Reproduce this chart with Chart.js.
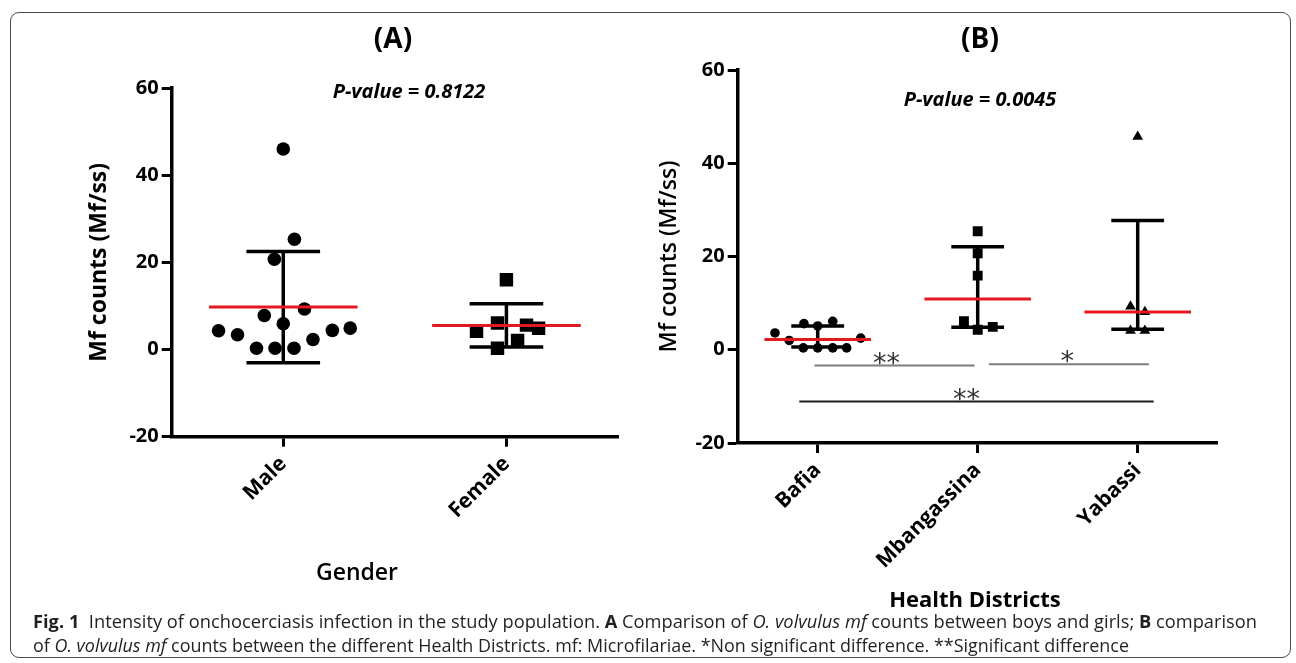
<!DOCTYPE html>
<html>
<head>
<meta charset="utf-8">
<title>Fig. 1 Intensity of onchocerciasis infection</title>
<script src="https://cdn.jsdelivr.net/npm/chart.js@4.4.1/dist/chart.umd.min.js"></script>
<style>
  html, body { margin: 0; padding: 0; background: #fff; }
  #page { position: relative; width: 1296px; height: 663px; overflow: hidden; }
  canvas { position: absolute; left: 0; top: 0; }
  #frame {
    position: absolute; left: 10px; top: 12px; width: 1279px; height: 644px;
    border: 1.5px solid #4a4a4a; border-radius: 9px;
  }
  .cap {
    position: absolute; left: 33px; white-space: nowrap;
    font-family: 'Open Sans', sans-serif; font-size: 18.5px; line-height: 24px;
    color: #231f20; transform-origin: 0 50%;
  }
</style>
</head>
<body>
<div id="page">
  <div id="frame"></div>
  <canvas id="chartA" width="1296" height="663"></canvas>
  <canvas id="chartB" width="1296" height="663"></canvas>
  <div class="cap" id="cap1" style="top:609px"><b>Fig. 1</b>&nbsp; Intensity of onchocerciasis infection in the study population. <b>A</b> Comparison of <i>O. volvulus mf</i> counts between boys and girls; <b>B</b> comparison</div>
  <div class="cap" id="cap2" style="top:633px">of <i>O. volvulus mf</i> counts between the different Health Districts. mf: Microfilariae. *Non significant difference. **Significant difference</div>
</div>
<script>
// panel A: gender
const genderLabels = ['Male', 'Female'];
const maleCounts = [46, 25.3, 20.7, 9.3, 7.8, 5.9, 4.3, 3.4, 0.3, 0.3, 0.3, 2.3, 4.4, 4.9];
const maleJitter = [0, 0.05, -0.04, 0.095, -0.085, 0, -0.29, -0.205, -0.12, -0.037, 0.048, 0.133, 0.22, 0.3];
const femaleCounts = [16.0, 4.2, 6.1, 0.3, 2.1, 5.6, 4.9];
const femaleJitter = [0, -0.134, -0.04, -0.04, 0.05, 0.09, 0.144];
const genderMean = [9.75, 5.5];
const genderLow = [-3.05, 0.6];
const genderHigh = [22.5, 10.5];

// panel B: health districts
const districtLabels = ['Bafia', 'Mbangassina', 'Yabassi'];
const bafiaCounts = [3.6, 2.0, 5.6, 5.1, 6.1, 0.4, 0.4, 0.4, 0.4, 2.5];
const bafiaJitter = [-0.267, -0.178, -0.086, 0, 0.094, -0.09, 0, 0.094, 0.181, 0.269];
const mbangCounts = [25.4, 20.7, 15.9, 6.1, 4.3, 4.9];
const mbangJitter = [0, 0, 0, -0.086, 0, 0.094];
const yabassiCounts = [45.7, 9.3, 8.1, 4.1, 4.1];
const yabassiJitter = [0, -0.045, 0.045, -0.045, 0.045];
const districtMedian = [2.2, 10.9, 8.1];
const districtQ1 = [0.6, 4.8, 4.4];
const districtQ3 = [5.1, 22.1, 27.7];

// comparison lines under panel B (x in category units, level in Mf/ss)
const bracketFrom = [-0.02, 1.07, -0.115];
const bracketTo = [0.98, 2.07, 2.1];
const bracketLevel = [-3.4, -3.1, -11.1];
const bracketMark = ['**', '*', '**'];
const bracketMarkAt = [0.43, 1.56, 0.93];

const yTicks = [-20, 0, 20, 40, 60];

const RED = '#e3191f';
const CAP_HALF = 0.165;
const MED_HALF = 0.333;

Chart.defaults.font.family = "'Open Sans', sans-serif";
Chart.defaults.color = '#000';

function points(counts, jitter, idx) {
  return counts.map((v, k) => ({ x: idx + jitter[k], y: v }));
}

function hLines(values, half) {
  const out = [];
  values.forEach((v, i) => {
    out.push({ x: i - half, y: v }, { x: i + half, y: v }, { x: i, y: null });
  });
  return out;
}

function errorBars(low, high, half) {
  const out = [];
  low.forEach((lo, i) => {
    const hi = high[i];
    out.push({ x: i, y: lo }, { x: i, y: hi }, { x: i, y: null });
    out.push({ x: i - half, y: hi }, { x: i + half, y: hi }, { x: i, y: null });
    out.push({ x: i - half, y: lo }, { x: i + half, y: lo }, { x: i, y: null });
  });
  return out;
}

function markSet(data, style, radius) {
  return {
    data: data,
    pointStyle: style,
    pointRadius: radius,
    backgroundColor: '#000',
    borderWidth: 0,
    order: 2
  };
}

function lineSet(data, color, width, order) {
  return {
    data: data,
    showLine: true,
    spanGaps: false,
    borderColor: color,
    borderWidth: width,
    borderCapStyle: 'butt',
    pointRadius: 0,
    order: order
  };
}

function scales(labels, yWidth, yTitle, yTitleFont, yTitlePad) {
  return {
    x: {
      type: 'linear',
      min: -0.5,
      max: labels.length - 0.5,
      afterBuildTicks: s => { s.ticks = labels.map((_, i) => ({ value: i })); },
      afterFit: s => { s.height = 150; },
      ticks: {
        callback: v => labels[v],
        minRotation: 45,
        maxRotation: 45,
        autoSkip: false,
        padding: 5,
        font: { size: 21, weight: 'bold' }
      },
      grid: { drawOnChartArea: false, tickLength: 10, tickWidth: 3, tickColor: '#000' },
      border: { width: 3.5, color: '#000' }
    },
    y: {
      min: -20,
      max: 60,
      afterBuildTicks: s => { s.ticks = yTicks.map(v => ({ value: v })); },
      afterFit: s => { s.width = yWidth; },
      ticks: { padding: 3, font: { size: 20, weight: 'bold' } },
      grid: { drawOnChartArea: false, tickLength: 10, tickWidth: 3, tickColor: '#000' },
      border: { width: 3.5, color: '#000' },
      title: { display: true, text: yTitle, font: yTitleFont, padding: { top: yTitlePad, bottom: 0 } }
    }
  };
}

function textPlugin(items) {
  return {
    id: 'texts',
    afterDraw(chart) {
      const ctx = chart.ctx;
      ctx.save();
      ctx.textAlign = 'center';
      ctx.textBaseline = 'middle';
      ctx.fillStyle = '#000';
      items.forEach(t => {
        ctx.font = t.font;
        ctx.fillText(t.text, t.x, t.y);
      });
      ctx.restore();
    }
  };
}

const bracketLabels = {
  id: 'bracketLabels',
  afterDraw(chart) {
    const ctx = chart.ctx;
    const xs = chart.scales.x;
    const ys = chart.scales.y;
    ctx.save();
    ctx.font = "27px 'DejaVu Sans'";
    ctx.fillStyle = '#333';
    ctx.textAlign = 'center';
    ctx.textBaseline = 'alphabetic';
    bracketMark.forEach((m, k) => {
      ctx.fillText(m, xs.getPixelForValue(bracketMarkAt[k]), ys.getPixelForValue(bracketLevel[k]) + 6);
    });
    ctx.restore();
  }
};

const common = {
  responsive: false,
  animation: false,
  events: [],
  plugins: { legend: { display: false }, tooltip: { enabled: false } }
};

// panel A
new Chart(document.getElementById('chartA'), {
  type: 'scatter',
  data: {
    datasets: [
      lineSet(errorBars(genderLow, genderHigh, CAP_HALF), '#000', 3.5, 3),
      markSet(points(maleCounts, maleJitter, 0), 'circle', 6.8),
      markSet(points(femaleCounts, femaleJitter, 1), 'rect', 9.5),
      lineSet(hLines(genderMean, MED_HALF), RED, 3, 1)
    ]
  },
  options: {
    ...common,
    layout: { padding: { left: 0, top: 88, right: 678, bottom: 76.3 } },
    scales: scales(genderLabels, 171.7, 'Mf counts (Mf/ss)', { size: 23, weight: 'bold' }, 86)
  },
  plugins: [textPlugin([
    { text: '(A)', x: 393, y: 40, font: "bold 28px 'Open Sans'" },
    { text: 'P-value = 0.8122', x: 409, y: 92, font: "italic bold 20px 'Open Sans'" },
    { text: 'Gender', x: 357, y: 573, font: "600 23px 'Open Sans'" }
  ])]
});

// panel B
const bracketSets = bracketFrom.map((f, k) => lineSet(
  [{ x: f, y: bracketLevel[k] }, { x: bracketTo[k], y: bracketLevel[k] }],
  k < 2 ? '#7d7d7d' : '#1e1e1e', 2, 4
));

new Chart(document.getElementById('chartB'), {
  type: 'scatter',
  data: {
    datasets: [
      ...bracketSets,
      lineSet(errorBars(districtQ1, districtQ3, CAP_HALF), '#000', 3.5, 3),
      markSet(points(bafiaCounts, bafiaJitter, 0), 'circle', 4.8),
      markSet(points(mbangCounts, mbangJitter, 1), 'rect', 7),
      markSet(points(yabassiCounts, yabassiJitter, 2), 'triangle', 6.2),
      lineSet(hLines(districtMedian, MED_HALF), RED, 3, 1)
    ]
  },
  options: {
    ...common,
    layout: { padding: { left: 640, top: 70, right: 78.3, bottom: 70 } },
    scales: scales(districtLabels, 97.7, 'Mf counts (Mf/ss)', { size: 23, weight: '600' }, 16)
  },
  plugins: [bracketLabels, textPlugin([
    { text: '(B)', x: 980, y: 40, font: "bold 28px 'Open Sans'" },
    { text: 'P-value = 0.0045', x: 980, y: 100, font: "italic bold 20px 'Open Sans'" },
    { text: 'Health Districts', x: 975, y: 601, font: "bold 22px 'Open Sans'" }
  ])]
});

// fit the caption lines to the printed line widths
[['cap1', 1224], ['cap2', 1096]].forEach(([id, w]) => {
  const el = document.getElementById(id);
  el.style.transform = 'scaleX(' + (w / el.getBoundingClientRect().width) + ')';
});
</script>
</body>
</html>
